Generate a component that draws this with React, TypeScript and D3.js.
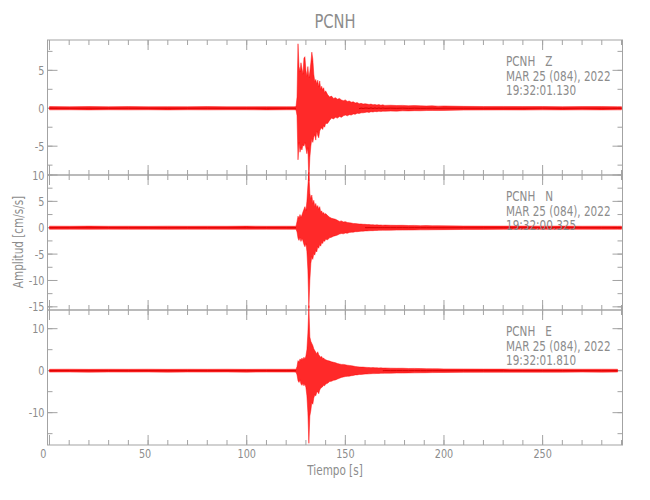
import React from "react";
import * as d3 from "d3";

// ---- data ----
const stationTitle = "PCNH";
const xTitle = "Tiempo [s]";
const yTitle = "Amplitud [cm/s/s]";
const components = ["Z", "N", "E"];
const dateLine = "MAR 25 (084), 2022";
const startTimes = ["19:32:01.130", "19:32:00.325", "19:32:01.810"];

const xDomain = [-1, 290.5];
const xMajorTicks = [0, 50, 100, 150, 200, 250];
const xMinorTicks = [0,10,20,30,40,50,60,70,80,90,100,110,120,130,140,150,160,170,180,190,200,210,220,230,240,250,260,270,280,290];

const yDomainZ = [-8.8, 9.0];
const yDomainN = [-15.6, 10];
const yDomainE = [-17.7, 14.45];
const yMajorZ = [-5, 0, 5];
const yMinorZ = [-7.5, -5, -2.5, 0, 2.5, 5, 7.5];
const yMajorN = [-15, -10, -5, 0, 5, 10];
const yMinorN = [-15, -12.5, -10, -7.5, -5, -2.5, 0, 2.5, 5, 7.5, 10];
const yMajorE = [-10, 0, 10];
const yMinorE = [-15, -10, -5, 0, 5, 10];

const traceEnd = [290, 290, 288];

// time grid (s) at which the trace envelope (max / min per bin) was read
const tGrid = [0,10,20,30,40,50,60,70,80,90,100,110,120,124,125,
  125.5,126,126.5,127,127.5,128,128.5,129,129.5,130,130.5,131,131.5,132,132.5,133,133.5,134,134.5,135,135.5,136,136.5,137,137.5,138,138.5,139,139.5,140,
  141,142,143,144,145,146,147,148,149,150,151,152,153,154,155,156,157,158,159,160,161,162,163,164,165,166,167,168,169,170,
  173,176,179,182,185,188,191,194,197,200,
  210,220,230,240,250,260,270,280,288,290];

const zUp = [0.22,0.2,0.23,0.2,0.22,0.2,0.21,0.2,0.22,0.2,0.2,0.21,0.2,0.2,0.22,
  1.5,8.5,5.5,4.8,6.0,5.2,4.5,6.6,6.8,5.0,4.2,5.5,4.0,4.8,6.0,7.4,6.5,4.5,3.5,3.8,3.2,3.7,2.8,3.6,2.5,2.9,2.4,2.7,2.0,2.3,
  1.8,1.5,1.6,1.3,1.4,1.2,1.3,1.1,1.0,1.1,0.9,0.95,0.8,0.85,0.7,0.75,0.6,0.65,0.55,0.6,0.55,0.5,0.55,0.45,0.5,0.42,0.48,0.4,0.45,0.38,
  0.4,0.36,0.38,0.33,0.35,0.32,0.3,0.32,0.28,0.3,
  0.25,0.23,0.24,0.22,0.23,0.21,0.22,0.22,0.21,0.21];
const zLo = [-0.21,-0.2,-0.22,-0.2,-0.21,-0.2,-0.22,-0.2,-0.21,-0.2,-0.2,-0.22,-0.2,-0.2,-0.22,
  -1.0,-6.8,-4.5,-5.8,-5.2,-5.5,-4.8,-5.0,-4.5,-5.3,-6.0,-5.2,-9.6,-6.5,-5.0,-4.0,-4.5,-3.8,-3.5,-4.2,-3.0,-3.6,-3.9,-3.0,-2.7,-2.6,-2.8,-2.3,-2.5,-2.0,
  -2.0,-1.6,-1.3,-1.4,-1.2,-1.3,-1.1,-1.2,-1.0,-0.9,-1.0,-0.85,-0.9,-0.75,-0.8,-0.65,-0.7,-0.6,-0.6,-0.55,-0.5,-0.55,-0.45,-0.5,-0.42,-0.46,-0.4,-0.44,-0.38,-0.4,
  -0.37,-0.38,-0.34,-0.35,-0.32,-0.33,-0.3,-0.29,-0.3,-0.28,
  -0.24,-0.23,-0.22,-0.23,-0.21,-0.22,-0.21,-0.22,-0.21,-0.21];

const nUp = [0.3,0.28,0.31,0.28,0.29,0.27,0.3,0.28,0.29,0.28,0.31,0.28,0.29,0.28,0.3,
  1.2,2.2,1.8,2.5,2.0,2.4,3.0,3.5,4.0,3.2,5.0,8.0,10.5,6.5,5.5,6.2,4.6,5.2,4.0,4.6,3.8,4.2,3.5,4.0,3.0,3.2,2.7,2.9,2.5,2.7,
  2.3,2.0,1.8,1.7,1.6,1.4,1.2,1.3,1.1,1.15,1.0,0.95,0.9,0.8,0.8,0.75,0.7,0.7,0.65,0.65,0.6,0.62,0.55,0.58,0.52,0.55,0.5,0.52,0.48,0.5,
  0.47,0.45,0.46,0.42,0.44,0.4,0.41,0.38,0.39,0.36,
  0.33,0.32,0.31,0.32,0.3,0.31,0.29,0.3,0.29,0.3];
const nLo = [-0.29,-0.28,-0.3,-0.27,-0.29,-0.28,-0.3,-0.28,-0.28,-0.29,-0.3,-0.28,-0.29,-0.29,-0.28,
  -0.8,-2.0,-2.4,-1.8,-2.6,-2.0,-2.5,-3.2,-3.6,-3.0,-4.5,-8.0,-15.2,-10.0,-6.8,-5.5,-6.0,-4.9,-5.2,-4.3,-4.6,-3.6,-3.9,-3.2,-3.5,-2.8,-3.0,-2.4,-2.6,-2.2,
  -2.3,-1.9,-1.8,-1.6,-1.5,-1.4,-1.2,-1.1,-1.15,-1.0,-1.05,-0.9,-0.85,-0.85,-0.75,-0.75,-0.7,-0.65,-0.65,-0.6,-0.6,-0.58,-0.55,-0.56,-0.52,-0.53,-0.5,-0.5,-0.47,-0.48,
  -0.46,-0.45,-0.44,-0.43,-0.42,-0.4,-0.4,-0.38,-0.37,-0.36,
  -0.33,-0.32,-0.31,-0.31,-0.3,-0.31,-0.29,-0.3,-0.29,-0.3];

const eUp = [0.33,0.35,0.32,0.34,0.33,0.35,0.32,0.34,0.33,0.35,0.32,0.34,0.33,0.35,0.33,
  1.0,2.4,2.0,2.8,2.5,3.0,2.6,3.2,2.8,3.5,5.0,9.0,15.5,8.0,7.0,6.5,6.0,5.2,4.8,4.4,4.0,4.5,3.8,3.5,3.2,3.4,2.9,3.0,2.7,2.6,
  2.4,2.3,2.1,2.0,1.9,1.7,1.6,1.5,1.5,1.4,1.3,1.25,1.2,1.1,1.0,0.95,0.9,0.85,0.85,0.8,0.78,0.75,0.72,0.74,0.68,0.7,0.65,0.67,0.62,0.64,
  0.6,0.57,0.58,0.52,0.54,0.5,0.48,0.46,0.45,0.42,
  0.4,0.38,0.37,0.36,0.35,0.36,0.34,0.35,0.34,0.34];
const eLo = [-0.34,-0.32,-0.35,-0.33,-0.34,-0.32,-0.35,-0.33,-0.34,-0.32,-0.35,-0.33,-0.34,-0.33,-0.35,
  -1.0,-2.4,-2.8,-2.2,-3.2,-3.5,-3.0,-3.6,-3.2,-4.0,-6.0,-10.0,-17.3,-10.8,-9.5,-7.5,-8.0,-6.5,-5.8,-6.0,-5.2,-5.0,-5.5,-4.6,-4.2,-4.0,-3.8,-3.5,-3.6,-3.2,
  -3.0,-2.6,-2.5,-2.3,-2.2,-2.0,-1.8,-1.6,-1.5,-1.4,-1.35,-1.3,-1.2,-1.15,-1.0,-1.0,-0.9,-0.9,-0.85,-0.8,-0.78,-0.76,-0.72,-0.7,-0.7,-0.66,-0.67,-0.63,-0.64,-0.6,
  -0.6,-0.56,-0.57,-0.53,-0.52,-0.5,-0.48,-0.46,-0.44,-0.43,
  -0.4,-0.38,-0.37,-0.36,-0.36,-0.35,-0.34,-0.35,-0.34,-0.34];

// ---- layout ----
const W = 650, H = 500;
const plotLeft = 47.5, plotRight = 622.5;
const panelTops = [40, 175, 310];
const panelH = 135;
const AXIS = "#a3a3a3";
const TEXT = "#8c8c8c";
const FONT = "'DejaVu Sans Condensed', 'DejaVu Sans', sans-serif";
const NARROW = 0.86;
const LABEL_FIELD_SHIFT = 9.2; // x tick labels are left-justified in a 3-digit field centred on the tick

function Narrow({ x, y, size, anchor = "start", children }: any) {
  return (
    <g transform={`translate(${x},${y}) scale(${NARROW},1)`}>
      <text x={0} y={0} fontSize={size} fill={TEXT} textAnchor={anchor} style={{ whiteSpace: "pre" }}>{children}</text>
    </g>
  );
}

export default function App() {
  const x = d3.scaleLinear().domain(xDomain).range([plotLeft, plotRight]);
  const domains = [yDomainZ, yDomainN, yDomainE];
  const majors = [yMajorZ, yMajorN, yMajorE];
  const minors = [yMinorZ, yMinorN, yMinorE];
  const ups = [zUp, nUp, eUp];
  const los = [zLo, nLo, eLo];

  return (
    <svg width={W} height={H} style={{ position: "absolute", left: 0, top: 0, background: "#fff" }}
      fontFamily={FONT}>
      <rect x={0} y={0} width={W} height={H} fill="#fff" />
      <Narrow x={(plotLeft + plotRight) / 2} y={28} size={19} anchor="middle">{stationTitle}</Narrow>
      {components.map((c, p) => {
        const top = panelTops[p];
        const bottom = top + panelH;
        const y = d3.scaleLinear().domain(domains[p]).range([bottom, top]);
        const pts = tGrid.map((t, i) => ({ t, up: ups[p][i], lo: los[p][i] })).filter(d => d.t <= traceEnd[p]);
        const area = d3.area<any>().x(d => x(d.t)).y0(d => y(d.lo)).y1(d => y(d.up));
        const mid = d3.line<any>().defined(d => d.up - d.lo < 1.3).x(d => x(d.t)).y(d => y((d.up + d.lo) / 2));
        return (
          <g key={c}>
            <rect x={plotLeft} y={top} width={plotRight - plotLeft} height={panelH} fill="none" stroke={AXIS} strokeWidth={1} />
            {xMinorTicks.map(t => (
              <g key={"xm" + t}>
                <line x1={x(t)} x2={x(t)} y1={bottom} y2={bottom - 5} stroke={AXIS} />
                <line x1={x(t)} x2={x(t)} y1={top} y2={top + 5} stroke={AXIS} />
              </g>
            ))}
            {xMajorTicks.map(t => (
              <g key={"xM" + t}>
                <line x1={x(t)} x2={x(t)} y1={bottom} y2={bottom - 10} stroke={AXIS} />
                <line x1={x(t)} x2={x(t)} y1={top} y2={top + 10} stroke={AXIS} />
              </g>
            ))}
            {minors[p].map(v => (
              <g key={"ym" + v}>
                <line x1={plotLeft} x2={plotLeft + 5} y1={y(v)} y2={y(v)} stroke={AXIS} />
                <line x1={plotRight} x2={plotRight - 5} y1={y(v)} y2={y(v)} stroke={AXIS} />
              </g>
            ))}
            {majors[p].map(v => (
              <g key={"yM" + v}>
                <line x1={plotLeft} x2={plotLeft + 10} y1={y(v)} y2={y(v)} stroke={AXIS} />
                <line x1={plotRight} x2={plotRight - 10} y1={y(v)} y2={y(v)} stroke={AXIS} />
                <Narrow x={plotLeft - 3} y={y(v) + 4.5} size={12.5} anchor="end">{String(v)}</Narrow>
              </g>
            ))}
            <path d={area(pts) || ""} fill="#ff0000" fillOpacity={0.84} stroke="#ff0000" strokeOpacity={0.9} strokeWidth={0.5} />
            <path d={mid(pts) || ""} fill="none" stroke="#d80000" strokeWidth={1} />
            <Narrow x={506} y={top + 26} size={13.5}>{`PCNH   ${c}`}</Narrow>
            <Narrow x={506} y={top + 40.5} size={13.5}>{dateLine}</Narrow>
            <Narrow x={506} y={top + 55} size={13.5}>{startTimes[p]}</Narrow>
          </g>
        );
      })}
      {xMajorTicks.map(t => (
        <Narrow key={"xl" + t} x={x(t) - LABEL_FIELD_SHIFT} y={457.5} size={12.5} anchor="start">{String(t)}</Narrow>
      ))}
      <Narrow x={(plotLeft + plotRight) / 2} y={475} size={13.5} anchor="middle">{xTitle}</Narrow>
      <g transform={`translate(23,242) rotate(-90) scale(${NARROW},1)`}>
        <text x={0} y={0} textAnchor="middle" fontSize={13.5} fill={TEXT}>{yTitle}</text>
      </g>
    </svg>
  );
}
